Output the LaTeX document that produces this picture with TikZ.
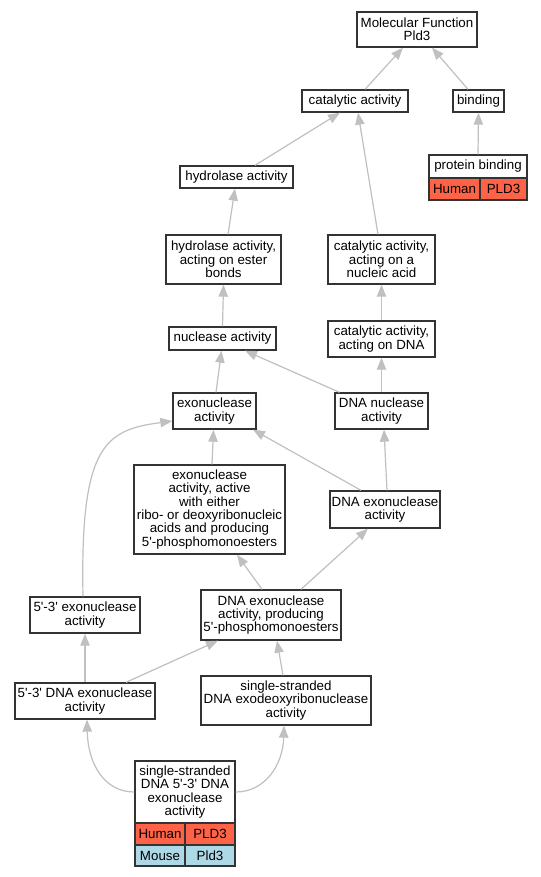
\documentclass[tikz,border=0pt]{standalone}
\usepackage{fontspec}
\newfontfamily\gofont{Liberation Sans}
\usetikzlibrary{arrows.meta,calc}
\definecolor{edgegrey}{HTML}{C0C0C0}
\definecolor{humanred}{HTML}{FF6347}
\definecolor{mouseblue}{HTML}{ADD8E6}
\newcommand\gobox[7][]{\node[box,#1,minimum width={(#5-#3)*0.75pt},minimum height={(#6-#4)*0.75pt}] (#2) at ({(#3+#5)/2},{(#4+#6)/2}) {#7};}
\begin{document}
\begin{tikzpicture}[x=0.75pt,y=-0.75pt,
  box/.style={draw=black!80,line width=1pt,fill=white,inner sep=0pt,align=center,font=\gofont\fontsize{10}{10}\selectfont},
  human/.style={fill=humanred},
  mouse/.style={fill=mouseblue},
  edge/.style={draw=edgegrey,line width=0.9pt,-{Triangle[length=9pt,width=7pt]}}]
\useasboundingbox (0,0) rectangle (541,877);
\fill[white] (0,0) rectangle (541,877);
% nodes
\gobox{mf}{357}{12}{477}{47}{Molecular Function\\Pld3}
\gobox{cat}{302}{90}{408}{112}{catalytic activity}
\gobox{bind}{453}{90}{504}{112}{binding}
\gobox{pb}{429}{155}{527}{178}{protein binding}
\gobox[human]{pbH}{429}{178}{480}{200}{Human}
\gobox[human]{pbP}{480}{178}{527}{200}{PLD3}
\gobox{hyd}{180}{166}{293}{188}{hydrolase activity}
\gobox{hydE}{166}{235}{281}{284}{hydrolase activity,\\acting on ester\\bonds}
\gobox{catNA}{328}{235}{435}{284}{catalytic activity,\\acting on a\\nucleic acid}
\gobox{nuc}{169}{327}{276}{350}{nuclease activity}
\gobox{catDNA}{328}{321}{435}{357}{catalytic activity,\\acting on DNA}
\gobox{exo}{173}{393}{256}{429}{exonuclease\\activity}
\gobox{dnanuc}{335}{393}{428}{429}{DNA nuclease\\activity}
\gobox{exoA}{134}{465}{285}{554}{exonuclease\\activity, active\\with either\\ribo- or deoxyribonucleic\\acids and producing\\5\textquotesingle-phosphomonoesters}
\gobox{dnaexo}{330}{491}{440}{528}{DNA exonuclease\\activity}
\gobox{e53}{30}{597}{140}{633}{5\textquotesingle-3\textquotesingle\ exonuclease\\activity}
\gobox{dnaexoP}{201}{590}{341}{640}{DNA exonuclease\\activity, producing\\5\textquotesingle-phosphomonoesters}
\gobox{d53}{15}{683}{155}{719}{5\textquotesingle-3\textquotesingle\ DNA exonuclease\\activity}
\gobox{ssexo}{201}{676}{371}{725}{single-stranded\\DNA exodeoxyribonuclease\\activity}
\gobox{ss}{135}{761}{235}{823}{single-stranded\\DNA 5\textquotesingle-3\textquotesingle\ DNA\\exonuclease\\activity}
\gobox[human]{ssH}{135}{823}{185}{845}{Human}
\gobox[human]{ssHP}{185}{823}{235}{845}{PLD3}
\gobox[mouse]{ssM}{135}{845}{185}{866}{Mouse}
\gobox[mouse]{ssMP}{185}{845}{235}{866}{Pld3}
% edges
\draw[edge] ($(cat.north)+(10,0)$) -- ($(mf.south)+(-14,0)$);
\draw[edge] ($(bind.north)+(-10.5,0)$) -- ($(mf.south)+(15,0)$);
\draw[edge] (pb.north) -- (bind.south);
\draw[edge] ($(hyd.north)+(18.5,0)$) -- ($(cat.south)+(-15,0)$);
\draw[edge] ($(catNA.north)+(-3.5,0)$) -- ($(cat.south)+(3,0)$);
\draw[edge] ($(hydE.north)+(4.5,0)$) -- ($(hyd.south)+(-1.5,0)$);
\draw[edge] (nuc.north) -- (hydE.south);
\draw[edge] (catDNA.north) -- (catNA.south);
\draw[edge] ($(dnanuc.north)+(-42,0)$) -- ($(nuc.south)+(22.5,0)$);
\draw[edge] (dnanuc.north) -- (catDNA.south);
\draw[edge] ($(exo.north)+(1.5,0)$) -- ($(nuc.south)+(-1,0)$);
\draw[edge] ($(exoA.north)+(2.5,0)$) -- ($(exo.south)+(-1,0)$);
\draw[edge] ($(dnaexo.north)+(-24,0)$) -- ($(exo.south)+(38.5,0)$);
\draw[edge] ($(dnaexo.north)+(2,0)$) -- ($(dnanuc.south)+(2.5,0)$);
\draw[edge] ($(dnaexoP.north)+(-9,0)$) -- ($(exoA.south)+(27.5,0)$);
\draw[edge] ($(dnaexoP.north)+(30,0)$) -- ($(dnaexo.south)+(-17,0)$);
\draw[edge] ($(e53.north)+(-2,0)$) .. controls (80,445) and (105,430) .. ($(exo.west)+(0,10)$);
\draw[edge] (d53.north) -- (e53.south);
\draw[edge] ($(d53.north)+(41,0)$) -- ($(dnaexoP.south)+(-53,0)$);
\draw[edge] ($(ssexo.north)+(-3,0)$) -- ($(dnaexoP.south)+(6,0)$);
\draw[edge] (ss.west) .. controls (105,792) and (88,765) .. ($(d53.south)+(2,0)$);
\draw[edge] (ss.east) .. controls (265,792) and (283,765) .. ($(ssexo.south)+(-2,0)$);
\end{tikzpicture}
\end{document}
